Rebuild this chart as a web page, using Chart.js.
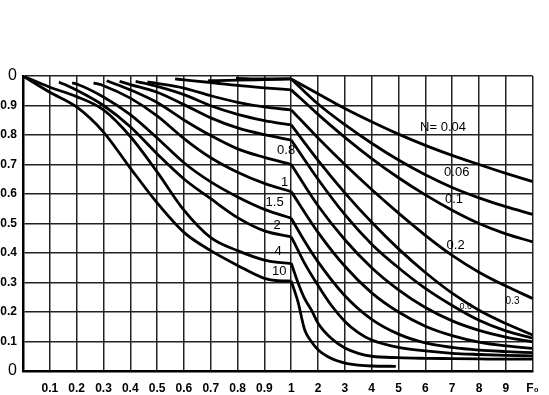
<!DOCTYPE html>
<html>
<head>
<meta charset="utf-8">
<script src="https://cdn.jsdelivr.net/npm/chart.js@4.4.1/dist/chart.umd.min.js"></script>
<style>
  html, body { margin: 0; padding: 0; background: #fff; }
</style>
</head>
<body>
<canvas id="grafico" width="549" height="395"></canvas>
<script>
// x axis: 0..1 in steps of 0.1, then 1..10 in steps of 1 (same spacing)
const xTicks = [0, 0.1, 0.2, 0.3, 0.4, 0.5, 0.6, 0.7, 0.8, 0.9, 1, 2, 3, 4, 5, 6, 7, 8, 9, 10];
const xTickLabels = ['', '0.1', '0.2', '0.3', '0.4', '0.5', '0.6', '0.7', '0.8', '0.9', '1', '2', '3', '4', '5', '6', '7', '8', '9', 'F\u2080'];
const yTickLabels = ['0', '0.1', '0.2', '0.3', '0.4', '0.5', '0.6', '0.7', '0.8', '0.9', '0'];

// curves, one pair of arrays per N (F0, theta)
const f0_n004 = [0.794, 0.9, 1, 2, 3, 4, 5, 6, 7, 8, 9, 10];
const th_n004 = [0.992, 0.99, 0.99, 0.94, 0.89, 0.845, 0.803, 0.765, 0.731, 0.70, 0.67, 0.642];

const f0_n006 = [0.69, 0.8, 0.9, 1, 2, 3, 4, 5, 6, 7, 8, 9, 10];
const th_n006 = [0.984, 0.986, 0.988, 0.99, 0.905, 0.835, 0.772, 0.715, 0.665, 0.622, 0.587, 0.557, 0.531];

const f0_n01 = [0.567, 0.6, 0.7, 0.8, 0.9, 1, 2, 3, 4, 5, 6, 7, 8, 9, 10];
const th_n01 = [0.99, 0.987, 0.978, 0.968, 0.96, 0.953, 0.87, 0.792, 0.72, 0.655, 0.597, 0.545, 0.50, 0.465, 0.438];

const f0_n02 = [0.464, 0.5, 0.6, 0.7, 0.8, 0.9, 1, 2, 3, 4, 5, 6, 7, 8, 9, 10];
const th_n02 = [0.98, 0.975, 0.959, 0.933, 0.911, 0.895, 0.885, 0.79, 0.70, 0.615, 0.535, 0.46, 0.392, 0.335, 0.288, 0.246];

const f0_n03 = [0.42, 0.5, 0.6, 0.7, 0.8, 0.9, 1, 2, 3, 4, 5, 6, 7, 8, 9, 10];
const th_n03 = [0.982, 0.965, 0.937, 0.899, 0.87, 0.849, 0.834, 0.714, 0.604, 0.504, 0.414, 0.334, 0.264, 0.206, 0.161, 0.122];

const f0_n06 = [0.36, 0.4, 0.5, 0.6, 0.7, 0.8, 0.9, 1, 2, 3, 4, 5, 6, 7, 8, 9, 10];
const th_n06 = [0.982, 0.971, 0.945, 0.903, 0.858, 0.824, 0.801, 0.783, 0.65, 0.53, 0.43, 0.35, 0.28, 0.222, 0.172, 0.136, 0.111];

const f0_n08 = [0.312, 0.4, 0.5, 0.6, 0.7, 0.8, 0.9, 1, 2, 3, 4, 5, 6, 7, 8, 9, 10];
const th_n08 = [0.984, 0.953, 0.91, 0.851, 0.798, 0.753, 0.724, 0.70, 0.56, 0.445, 0.35, 0.275, 0.215, 0.17, 0.138, 0.115, 0.099];

const f0_n1 = [0.263, 0.3, 0.4, 0.5, 0.6, 0.7, 0.8, 0.9, 1, 2, 3, 4, 5, 6, 7, 8, 9, 10];
const th_n1 = [0.977, 0.967, 0.925, 0.865, 0.788, 0.723, 0.674, 0.636, 0.608, 0.47, 0.355, 0.265, 0.20, 0.152, 0.12, 0.098, 0.085, 0.077];

const f0_n15 = [0.183, 0.2, 0.3, 0.4, 0.5, 0.6, 0.7, 0.8, 0.9, 1, 1.5, 2, 3, 4, 5, 6, 7, 8, 9, 10];
const th_n15 = [0.977, 0.973, 0.929, 0.869, 0.79, 0.706, 0.641, 0.59, 0.548, 0.518, 0.44, 0.37, 0.255, 0.175, 0.125, 0.095, 0.08, 0.071, 0.066, 0.062];

const f0_n2 = [0.134, 0.2, 0.3, 0.4, 0.5, 0.6, 0.7, 0.8, 0.9, 1, 1.25, 1.5, 2, 2.5, 3, 3.5, 4, 5, 6, 7, 8, 9, 10];
const th_n2 = [0.98, 0.952, 0.90, 0.828, 0.736, 0.651, 0.584, 0.52, 0.475, 0.455, 0.41, 0.365, 0.29, 0.222, 0.168, 0.13, 0.105, 0.08, 0.068, 0.06, 0.056, 0.053, 0.051];

const f0_n4 = [0, 0.1, 0.2, 0.3, 0.4, 0.5, 0.6, 0.7, 0.8, 0.9, 0.95, 1, 1.25, 1.5, 1.75, 2, 2.5, 3, 3.5, 4, 5, 6, 7, 8, 9, 10];
const th_n4 = [1.0, 0.962, 0.93, 0.885, 0.795, 0.675, 0.545, 0.452, 0.408, 0.376, 0.368, 0.365, 0.30, 0.245, 0.207, 0.162, 0.11, 0.078, 0.06, 0.05, 0.045, 0.043, 0.042, 0.041, 0.04, 0.04];

const f0_n10 = [0, 0.1, 0.2, 0.3, 0.4, 0.5, 0.6, 0.7, 0.8, 0.9, 0.95, 1, 1.25, 1.5, 1.75, 2, 2.5, 3, 3.5, 4, 4.9];
const th_n10 = [1.0, 0.945, 0.895, 0.81, 0.688, 0.57, 0.47, 0.408, 0.358, 0.314, 0.306, 0.305, 0.235, 0.14, 0.10, 0.072, 0.042, 0.027, 0.02, 0.017, 0.016];

// curve labels: text, F0, theta, font size
const labelText = ['N= 0.04', '0.06', '0.1', '0.2', '0.3', '0.6', '0.8', '1', '1.5', '2', '4', '10'];
const labelF0 = [6.66, 7.17, 7.07, 7.13, 9.25, 7.51, 0.981, 0.975, 0.938, 0.947, 0.951, 0.955];
const labelTh = [0.824, 0.673, 0.58, 0.425, 0.235, 0.22, 0.747, 0.639, 0.573, 0.494, 0.404, 0.338];
const labelSize = [13, 13, 13, 13, 10, 9, 13, 13, 13, 13, 13, 13];

const FONT = "'Liberation Sans', Arial, sans-serif";

// scale with the 0..1 part stretched so 0.1 has the same width as 1
class SplitScale extends Chart.LinearScale {
  determineDataLimits() { this.min = 0; this.max = 10; }
  buildTicks() {
    this.start = this.min; this.end = this.max;
    return xTicks.map(v => ({ value: v }));
  }
  getPixelForValue(v) {
    const u = v <= 1 ? v * 10 : v + 9;
    return this.getPixelForDecimal(u / 19);
  }
  getValueForPixel(p) {
    const u = this.getDecimalForPixel(p) * 19;
    return u <= 10 ? u / 10 : u - 9;
  }
}
SplitScale.id = 'split';
SplitScale.defaults = Chart.LinearScale.defaults;
Chart.register(SplitScale);

const curves = [
  [f0_n004, th_n004], [f0_n006, th_n006], [f0_n01, th_n01], [f0_n02, th_n02],
  [f0_n03, th_n03], [f0_n06, th_n06], [f0_n08, th_n08], [f0_n1, th_n1],
  [f0_n15, th_n15], [f0_n2, th_n2], [f0_n4, th_n4], [f0_n10, th_n10]
];

// each curve split at F0 = 1 so the bend stays sharp
let datasets = [];
curves.forEach(function(c) {
  let pts = c[0].map((x, i) => ({ x: x, y: c[1][i] }));
  [pts.filter(p => p.x <= 1), pts.filter(p => p.x >= 1)].forEach(function(part) {
    datasets.push({
      data: part,
      borderColor: '#000',
      borderWidth: 2.8,
      pointRadius: 0,
      fill: false,
      cubicInterpolationMode: 'monotone'
    });
  });
});

const curveLabels = {
  id: 'curveLabels',
  afterDatasetsDraw(chart) {
    const ctx = chart.ctx, xs = chart.scales.x, ys = chart.scales.y;
    ctx.save();
    ctx.fillStyle = '#000';
    ctx.textAlign = 'center';
    ctx.textBaseline = 'middle';
    labelText.forEach(function(t, i) {
      ctx.font = labelSize[i] + 'px ' + FONT;
      ctx.fillText(t, xs.getPixelForValue(labelF0[i]), ys.getPixelForValue(labelTh[i]));
    });
    ctx.restore();
  }
};

new Chart(document.getElementById('grafico'), {
  type: 'line',
  data: { datasets: datasets },
  options: {
    responsive: false,
    animation: false,
    layout: { padding: { top: 76, right: 12, left: 0, bottom: 0 } },
    plugins: { legend: { display: false }, tooltip: { enabled: false } },
    scales: {
      x: {
        type: 'split',
        afterFit: s => { s.height = 24; },
        grid: { color: '#222', lineWidth: 1.5, drawTicks: false },
        border: { color: '#000', width: 2.5 },
        ticks: {
          autoSkip: false, maxRotation: 0, padding: 10, color: '#000',
          font: { family: FONT, size: 12, weight: 'bold' },
          callback: (v, i) => xTickLabels[i]
        }
      },
      y: {
        min: 0, max: 1,
        afterFit: s => { s.width = 23; },
        grid: { color: '#222', lineWidth: 1.5, drawTicks: false },
        border: { color: '#000', width: 2.5 },
        ticks: {
          stepSize: 0.1, padding: 6, color: '#000',
          font: c => ({ family: FONT, size: (c.index === 0 || c.index === 10) ? 16 : 12, weight: (c.index === 0 || c.index === 10) ? 'normal' : 'bold' }),
          callback: (v, i) => yTickLabels[i]
        }
      }
    }
  },
  plugins: [curveLabels]
});
</script>
</body>
</html>
